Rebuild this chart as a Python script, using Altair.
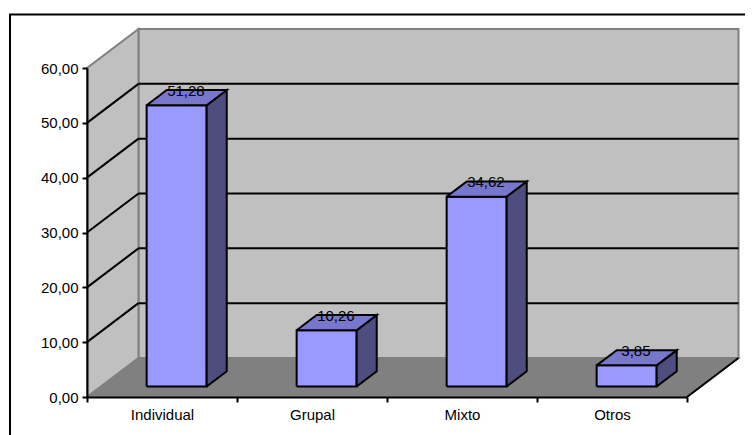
import altair as alt
import pandas as pd

categories = ["Individual", "Grupal", "Mixto", "Otros"]
values = [51.28, 10.26, 34.62, 3.85]
value_labels = ["51,28", "10,26", "34,62", "3,85"]
grid_values = [10, 20, 30, 40, 50]
y_ticks = [0, 10, 20, 30, 40, 50, 60]
x_ticks = [0, 1, 2, 3, 4]

C_WALL = "#C0C0C0"
C_FLOOR = "#808080"
C_EDGE = "#808080"
C_FRONT = "#9999FF"
C_TOP = "#7777CC"
C_SIDE = "#4D4D80"
FONT = "Liberation Sans"
PLOT_W, PLOT_H = 600, 329
N, YMAX = 4, 60
DEPTH_X = 51.5 / (PLOT_W / N)       # depth offset in category units
DEPTH_Y = 39 / (PLOT_H / YMAX)      # depth offset in value units
BAR_START, BAR_W = 0.305, 0.40
D0, D1 = 0.27, 0.66

xs = alt.Scale(domain=[0, N], range=[0, PLOT_W], nice=False, zero=False)
ys = alt.Scale(domain=[0, YMAX], range=[PLOT_H, 0], nice=False, zero=False)

X_AXIS = alt.Axis(
    values=x_ticks,
    labelExpr="datum.value < 4 ? " + str(categories) + "[datum.value] : ''",
    labelOffset=75, labelOverlap=False, labelFlush=False, labelBound=False,
    labelFont=FONT, labelFontSize=15, labelColor="black", labelPadding=5,
    tickSize=5, tickWidth=2, tickColor="black", title=None,
    domainColor="black", domainWidth=2, grid=False, zindex=2,
)
Y_AXIS = alt.Axis(
    values=y_ticks,
    labelExpr="replace(format(datum.value, '.2f'), '.', ',')",
    labelFont=FONT, labelFontSize=15, labelColor="black", labelPadding=4,
    labelOverlap=False, labelBound=False, title=None,
    tickSize=5, tickWidth=2, tickColor="black",
    domainColor="black", domainWidth=2, grid=False, zindex=2,
)


def pt(i, v, d):
    return i + d * DEPTH_X, v + d * DEPTH_Y


def xenc():
    return alt.X("x:Q", scale=xs, axis=X_AXIS)


def yenc():
    return alt.Y("y:Q", scale=ys, axis=Y_AXIS)


def polys(items, fill, stroke, sw):
    rows = []
    for pid, pts in enumerate(items):
        for k, p in enumerate(list(pts) + [pts[0]]):
            rows.append({"pid": pid, "k": k, "x": p[0], "y": p[1]})
    return alt.Chart(pd.DataFrame(rows)).mark_line(
        fill=fill, stroke=stroke, strokeWidth=sw, strokeJoin="miter", clip=False
    ).encode(x=xenc(), y=yenc(), detail="pid:N", order="k:Q")


def segs(items, color, sw):
    rows = []
    for pid, (a, b) in enumerate(items):
        rows.append({"pid": pid, "k": 0, "x": a[0], "y": a[1]})
        rows.append({"pid": pid, "k": 1, "x": b[0], "y": b[1]})
    return alt.Chart(pd.DataFrame(rows)).mark_line(
        color=color, strokeWidth=sw, clip=False
    ).encode(x=xenc(), y=yenc(), detail="pid:N", order="k:Q")


back = polys([[pt(0, 0, 1), pt(N, 0, 1), pt(N, YMAX, 1), pt(0, YMAX, 1)]], C_WALL, C_EDGE, 2)
side = polys([[pt(0, 0, 0), pt(0, 0, 1), pt(0, YMAX, 1), pt(0, YMAX, 0)]], C_WALL, C_EDGE, 2)
floor = polys([[pt(0, 0, 0), pt(N, 0, 0), pt(N, 0, 1), pt(0, 0, 1)]], C_FLOOR, C_EDGE, 1.5)
grid_back = segs([(pt(0, v, 1), pt(N, v, 1)) for v in grid_values], "black", 2)
grid_side = segs([(pt(0, v, 0), pt(0, v, 1)) for v in grid_values], "black", 2)
floor_edge = segs([(pt(N, 0, 0), pt(N, 0, 1))], "black", 2)

fronts, tops, sides, lab_rows = [], [], [], []
for i, (v, lab) in enumerate(zip(values, value_labels)):
    l, r = i + BAR_START, i + BAR_START + BAR_W
    fronts.append([pt(l, 0, D0), pt(r, 0, D0), pt(r, v, D0), pt(l, v, D0)])
    tops.append([pt(l, v, D0), pt(r, v, D0), pt(r, v, D1), pt(l, v, D1)])
    sides.append([pt(r, 0, D0), pt(r, 0, D1), pt(r, v, D1), pt(r, v, D0)])
    cx = pt((l + r) / 2, v, (D0 + D1) / 2 - 0.015)[0]
    cy = pt((l + r) / 2, v, D1)[1]
    lab_rows.append({"x": cx, "y": cy, "t": lab})

bar_layers = [
    polys(fronts, C_FRONT, "black", 2),
    polys(sides, C_SIDE, "black", 2),
    polys(tops, C_TOP, "black", 2),
]

labels = alt.Chart(pd.DataFrame(lab_rows)).mark_text(
    font=FONT, fontSize=15, color="black", baseline="middle", align="center", dy=1, clip=False
).encode(x=xenc(), y=yenc(), text="t:N")

border_left = alt.Chart(pd.DataFrame({"a": [0]})).mark_rule(color="black", strokeWidth=2, clip=False).encode(
    x=alt.value(-77), y=alt.value(-53.5), y2=alt.value(367)
)
border_top = alt.Chart(pd.DataFrame({"a": [0]})).mark_rule(color="black", strokeWidth=2, clip=False).encode(
    y=alt.value(-53.5), x=alt.value(-78), x2=alt.value(666)
)

chart = alt.layer(
    back, side, floor, grid_back, grid_side, floor_edge,
    *bar_layers, labels, border_left, border_top,
).properties(
    width=PLOT_W, height=PLOT_H,
    autosize=alt.AutoSizeParams(type="none"),
    padding={"left": 79, "top": 60, "right": 58, "bottom": 38},
    background="white",
).configure_view(stroke=None)

chart.save("out.html", embed_options={"renderer": "svg", "actions": False})
